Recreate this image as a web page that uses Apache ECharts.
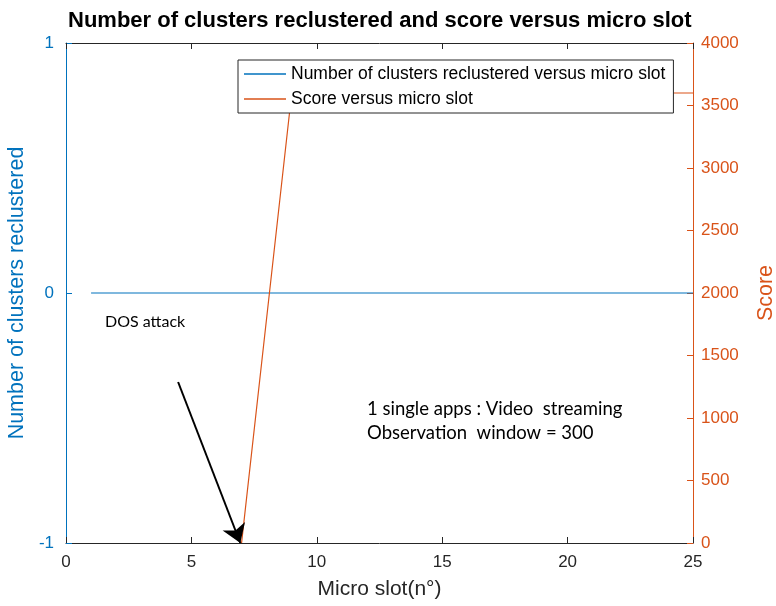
<!DOCTYPE html>
<html>
<head>
<meta charset="utf-8">
<script src="https://cdn.jsdelivr.net/npm/echarts@6/dist/echarts.min.js"></script>
<style>html,body{margin:0;padding:0;background:#fff}#c{width:776px;height:606px}</style>
</head>
<body>
<div id="c"></div>
<script>
const slots = [1,2,3,4,5,6,7,8,9,10,11,12,13,14,15,16,17,18,19,20,21,22,23,24,25];
const clusters = [0,0,0,0,0,0,0,0,0,0,0,0,0,0,0,0,0,0,0,0,0,0,0,0,0];
const score = [null,null,null,null,null,null,0,1800,3600,3600,3600,3600,3600,3600,3600,3600,3600,3600,3600,3600,3600,3600,3600,3600,3600];
const xTicks = [0,5,10,15,20,25];
const leftTicks = [-1,0,1];
const rightTicks = [0,500,1000,1500,2000,2500,3000,3500,4000];
const arrowFrom = [4.47, -0.356];
const arrowTo = [6.95, -1];

const BLUE = '#0072BD', ORANGE = '#D95319', DARK = '#262626';
const FONT = '"Liberation Sans", Arial, sans-serif';
const ANN = 'Lato, "Open Sans", sans-serif';
const chart = echarts.init(document.getElementById('c'), null, {renderer:'canvas'});
chart.setOption({
  animation: false,
  title: {
    text: 'Number of clusters reclustered and score versus micro slot',
    left: 63, top: 5,
    textStyle: {fontFamily: FONT, fontSize: 22, fontWeight: 'bold', color: '#000'}
  },
  legend: {
    orient: 'vertical', left: 238, top: 60,
    backgroundColor: '#fff', borderColor: DARK, borderWidth: 1,
    padding: [5, 8, 5, 6], itemGap: 7,
    itemWidth: 42, itemHeight: 1.5, icon: 'rect',
    textStyle: {fontFamily: FONT, fontSize: 17.5, color: '#000', padding: [0,0,0,0]},
    data: ['Number of clusters reclustered versus micro slot', 'Score versus micro slot']
  },
  grid: {left: 66, right: 83, top: 43, bottom: 63, containLabel: false, outerBoundsMode: 'none'},
  xAxis: [{
    type: 'value', min: 0, max: 25, interval: 5,
    name: 'Micro slot(n°)', nameLocation: 'middle', nameGap: 36,
    nameTextStyle: {fontFamily: FONT, fontSize: 21, color: DARK},
    axisLine: {show: true, onZero: false, lineStyle: {color: DARK}},
    axisTick: {inside: true, length: 6, lineStyle: {color: DARK}},
    axisLabel: {fontFamily: FONT, fontSize: 17, color: DARK, margin: 11,
      formatter: v => xTicks.includes(v) ? String(v) : ''},
    splitLine: {show: false}
  }, {
    type: 'value', position: 'top', min: 0, max: 25, interval: 5,
    axisLine: {show: true, onZero: false, lineStyle: {color: DARK}},
    axisTick: {inside: true, length: 6, lineStyle: {color: DARK}},
    axisLabel: {show: false}, splitLine: {show: false}
  }],
  yAxis: [{
    type: 'value', min: -1, max: 1, interval: 1,
    name: 'Number of clusters reclustered', nameLocation: 'middle', nameGap: 31, nameRotate: 90,
    nameTextStyle: {fontFamily: FONT, fontSize: 21.5, color: BLUE},
    axisLine: {show: true, onZero: false, lineStyle: {color: BLUE}},
    axisTick: {inside: true, length: 6, lineStyle: {color: BLUE}},
    axisLabel: {fontFamily: FONT, fontSize: 17, color: BLUE, margin: 12,
      formatter: v => leftTicks.includes(v) ? String(v) : ''},
    splitLine: {show: false}
  }, {
    type: 'value', position: 'right', min: 0, max: 4000, interval: 500,
    name: 'Score', nameLocation: 'middle', nameGap: 62, nameRotate: 90,
    nameTextStyle: {fontFamily: FONT, fontSize: 21.5, color: ORANGE},
    axisLine: {show: true, onZero: false, lineStyle: {color: ORANGE}},
    axisTick: {inside: true, length: 6, lineStyle: {color: ORANGE}},
    axisLabel: {fontFamily: FONT, fontSize: 17, color: ORANGE, margin: 8,
      formatter: v => rightTicks.includes(v) ? String(v) : ''},
    splitLine: {show: false}
  }],
  series: [{
    name: 'Number of clusters reclustered versus micro slot',
    type: 'line', yAxisIndex: 0, xAxisIndex: 0,
    data: slots.map((s, i) => [s, clusters[i]]),
    showSymbol: false, symbol: 'none',
    lineStyle: {color: BLUE, width: 1.2}, itemStyle: {color: BLUE},
    markLine: {
      silent: true, symbol: ['none', 'arrow'], symbolSize: 18,
      lineStyle: {color: '#000', width: 2, type: 'solid'},
      label: {show: false},
      data: [[{coord: arrowFrom}, {coord: arrowTo}]]
    }
  }, {
    name: 'Score versus micro slot',
    type: 'line', yAxisIndex: 1, xAxisIndex: 0,
    data: slots.map((s, i) => [s, score[i]]),
    showSymbol: false, symbol: 'none', connectNulls: false,
    lineStyle: {color: ORANGE, width: 1.2}, itemStyle: {color: ORANGE}
  }],
  graphic: [
    {type: 'text', left: 105, top: 314, style: {text: 'DOS attack', fontFamily: ANN, fontSize: 16, fill: '#000'}},
    {type: 'text', left: 367, top: 397, style: {text: '1 single apps : Video  streaming\nObservation  window = 300', fontFamily: ANN, fontSize: 18.5, lineHeight: 24, fill: '#000'}}
  ]
});
</script>
</body>
</html>
